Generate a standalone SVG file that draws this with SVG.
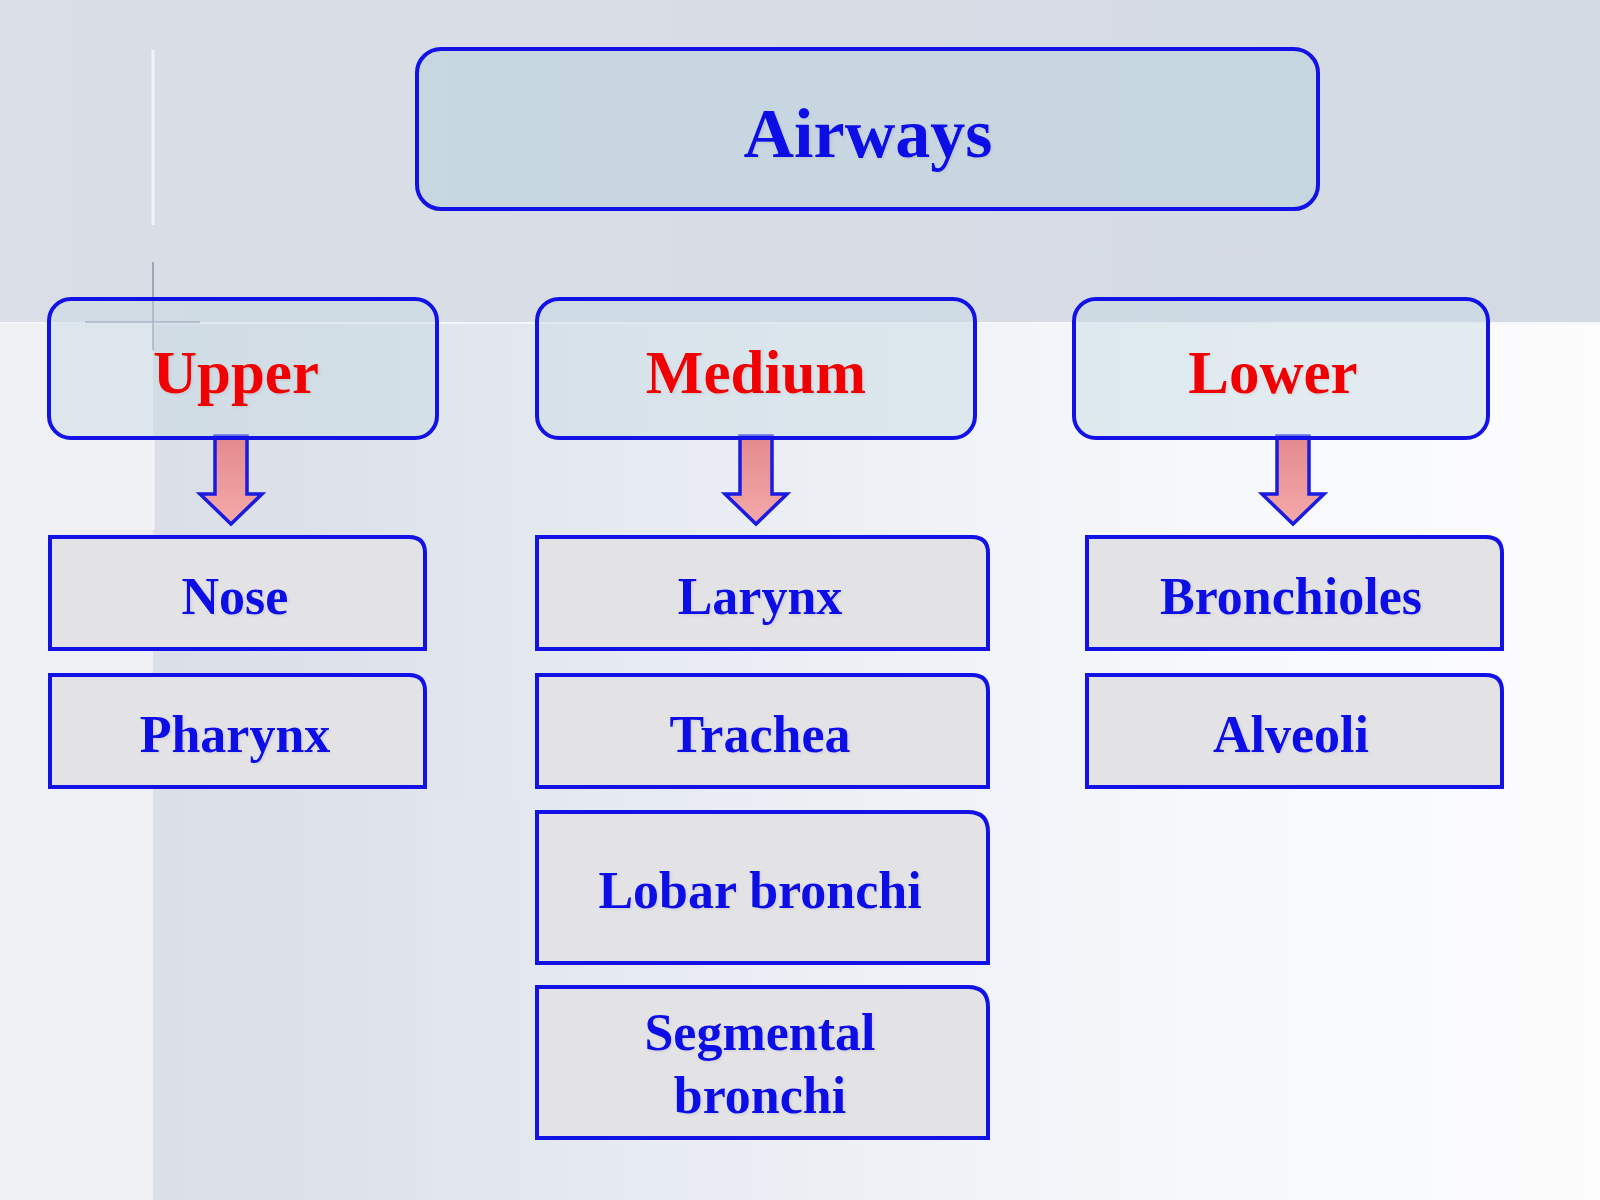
<svg xmlns="http://www.w3.org/2000/svg" width="1600" height="1200" viewBox="0 0 1600 1200">
  <defs>
    <linearGradient id="bgLow" x1="0" y1="0" x2="1" y2="0">
      <stop offset="0" stop-color="#d8dde6"/>
      <stop offset="0.2" stop-color="#dde2ea"/>
      <stop offset="0.45" stop-color="#e9edf3"/>
      <stop offset="0.75" stop-color="#f6f8fb"/>
      <stop offset="1" stop-color="#fcfcfd"/>
    </linearGradient>
    <linearGradient id="bgTop" x1="0" y1="0" x2="1" y2="0">
      <stop offset="0" stop-color="#dadfe7"/>
      <stop offset="1" stop-color="#d4dae3"/>
    </linearGradient>
    <linearGradient id="arrowFill" x1="0" y1="0" x2="0" y2="1">
      <stop offset="0" stop-color="#e28a8d"/>
      <stop offset="1" stop-color="#f5a9a9"/>
    </linearGradient>
    <filter id="txtShadow" x="-10%" y="-20%" width="130%" height="150%">
      <feDropShadow dx="1.5" dy="1.5" stdDeviation="1" flood-color="#8a8a9a" flood-opacity="0.2"/>
    </filter>
  </defs>
  <style>
    .head { fill: #c6dae3; fill-opacity: 0.45; stroke: #1212e6; stroke-width: 4; }
    .title { fill: #bcd2dc; fill-opacity: 0.6; stroke: #1212e6; stroke-width: 4; }
    .item { fill: #e3e3e6; stroke: #1212e6; stroke-width: 4; }
    .arrow { fill: url(#arrowFill); stroke: #1a1ae0; stroke-width: 3.5; stroke-linejoin: miter; }
    text { font-family: "Liberation Serif", "Times New Roman", serif; font-weight: bold; text-anchor: middle; filter: url(#txtShadow); }
    .t-title { font-size: 70px; fill: #0c0ce6; }
    .t-head { font-size: 61px; fill: #f00000; }
    .t-item { font-size: 52px; fill: #0c0ce6; }
  </style>

  <!-- background -->
  <rect x="0" y="0" width="1600" height="1200" fill="url(#bgLow)"/>
  <rect x="0" y="323" width="153" height="877" fill="#eef0f4"/>
  <rect x="0" y="0" width="1600" height="323" fill="url(#bgTop)"/>
  <line x1="0" y1="323" x2="1600" y2="323" stroke="#f4f6f9" stroke-width="2"/>
  <line x1="153" y1="50" x2="153" y2="225" stroke="#f2f4f8" stroke-width="3"/>
  <line x1="153" y1="440" x2="153" y2="530" stroke="#f2f4f8" stroke-width="3"/>
  <line x1="153" y1="262" x2="153" y2="350" stroke="#8a90a8" stroke-width="2" opacity="0.7"/>
  <line x1="85" y1="322" x2="200" y2="322" stroke="#8a90a8" stroke-width="2" opacity="0.7"/>
  <rect x="432" y="800" width="90" height="400" fill="#e2e6ec" opacity="0.6"/>

  <!-- connectors -->
  <g id="connectors">
    <path class="arrow" d="M215,436 V494 H200 L231,524 L262,494 H247 V436 Z"/>
    <path class="arrow" d="M740,436 V494 H725 L756,524 L787,494 H772 V436 Z"/>
    <path class="arrow" d="M1277,436 V494 H1262 L1293,524 L1324,494 H1309 V436 Z"/>
  </g>

  <g id="node-airways">
    <rect class="title" x="417" y="49" width="901" height="160" rx="24" ry="24"/>
    <text class="t-title" x="868" y="157">Airways</text>
  </g>

  <g id="node-upper">
    <rect class="head" x="49" y="299" width="388" height="139" rx="22" ry="22"/>
    <text class="t-head" x="236" y="393">Upper</text>
  </g>
  <g id="node-medium">
    <rect class="head" x="537" y="299" width="438" height="139" rx="22" ry="22"/>
    <text class="t-head" x="756" y="393">Medium</text>
  </g>
  <g id="node-lower">
    <rect class="head" x="1074" y="299" width="414" height="139" rx="22" ry="22"/>
    <text class="t-head" x="1273" y="393">Lower</text>
  </g>

  <g id="node-nose">
    <path class="item" d="M50,537 H409 Q425,537 425,553 V649 H50 Z"/>
    <text class="t-item" x="235" y="614">Nose</text>
  </g>
  <g id="node-pharynx">
    <path class="item" d="M50,675 H409 Q425,675 425,691 V787 H50 Z"/>
    <text class="t-item" x="235" y="752">Pharynx</text>
  </g>

  <g id="node-larynx">
    <path class="item" d="M537,537 H972 Q988,537 988,553 V649 H537 Z"/>
    <text class="t-item" x="760" y="614">Larynx</text>
  </g>
  <g id="node-trachea">
    <path class="item" d="M537,675 H972 Q988,675 988,691 V787 H537 Z"/>
    <text class="t-item" x="760" y="752">Trachea</text>
  </g>
  <g id="node-lobar">
    <path class="item" d="M537,812 H968 Q988,812 988,832 V963 H537 Z"/>
    <text class="t-item" x="760" y="908">Lobar bronchi</text>
  </g>
  <g id="node-segmental">
    <path class="item" d="M537,987 H968 Q988,987 988,1007 V1138 H537 Z"/>
    <text class="t-item" x="760" y="1050">Segmental</text>
    <text class="t-item" x="760" y="1113">bronchi</text>
  </g>

  <g id="node-bronchioles">
    <path class="item" d="M1087,537 H1486 Q1502,537 1502,553 V649 H1087 Z"/>
    <text class="t-item" x="1291" y="614">Bronchioles</text>
  </g>
  <g id="node-alveoli">
    <path class="item" d="M1087,675 H1486 Q1502,675 1502,691 V787 H1087 Z"/>
    <text class="t-item" x="1291" y="752">Alveoli</text>
  </g>
</svg>
